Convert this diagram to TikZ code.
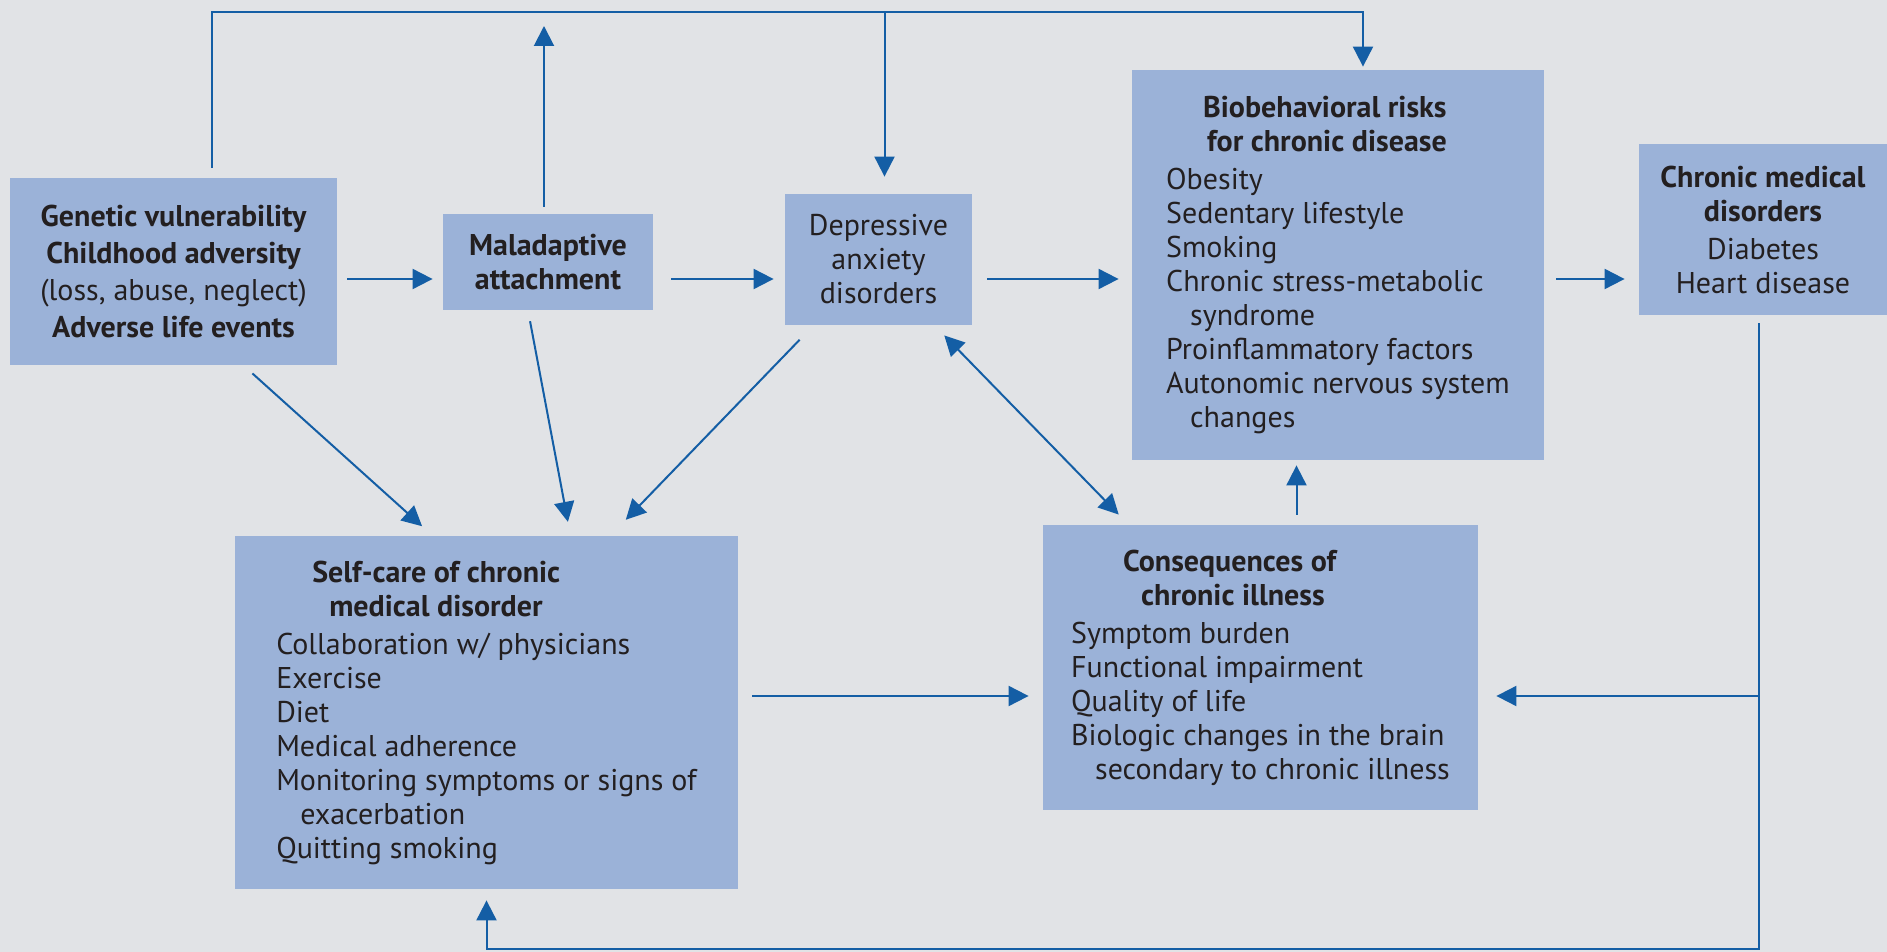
\documentclass[tikz,border=0pt]{standalone}
\usepackage{fontspec}
\setmainfont{PT Sans}
\usepackage{tikz}
\usetikzlibrary{arrows.meta, positioning, calc}
\definecolor{boxblue}{RGB}{155,178,216}
\definecolor{lineblue}{RGB}{20,94,165}
\definecolor{paper}{RGB}{225,227,230}
\definecolor{ink}{RGB}{35,31,32}

\begin{document}
\begin{tikzpicture}[
  x=0.5pt, y=-0.5pt,
  box/.style={rectangle, fill=boxblue, inner sep=0pt, text=ink,
              font=\fontsize{15}{17}\selectfont},
  link/.style={-{Triangle[length=10pt,width=10pt]}, draw=lineblue, line width=1pt},
  wire/.style={draw=lineblue, line width=1pt},
]
\fill[paper] (0,0) rectangle (1887,952);
\useasboundingbox (0,0) rectangle (1887,952);

% Nodes
\node[box, align=center, minimum width=163.5pt, minimum height=93.5pt,
      font=\fontsize{15}{18.5}\selectfont] (gen) at (173.5,271.5)
  {{\bfseries Genetic vulnerability}\\{\bfseries Childhood adversity}\\(loss, abuse, neglect)\\{\bfseries Adverse life events}};
\node[box, align=center, minimum width=105pt, minimum height=48pt] (mal) at (548,262)
  {{\bfseries Maladaptive}\\{\bfseries attachment}};
\node[box, align=center, minimum width=93.5pt, minimum height=65.5pt] (dep) at (878.5,259.5)
  {Depressive\\anxiety\\disorders};
\node[box, align=left, minimum width=206pt, minimum height=195pt] (bio) at (1338,265)
  {\hspace*{18.5pt}{\bfseries Biobehavioral risks}\\
   \hspace*{20.5pt}{\bfseries for chronic disease}\\[2pt]
   Obesity\\Sedentary lifestyle\\Smoking\\Chronic stress-metabolic\\
   \hspace*{12pt}syndrome\\Proinflammatory factors\\Autonomic nervous system\\
   \hspace*{12pt}changes};
\node[box, align=center, minimum width=124pt, minimum height=85.5pt] (chr) at (1763,229.5)
  {{\bfseries Chronic medical}\\{\bfseries disorders}\\[2pt]Diabetes\\Heart disease};
\node[box, align=left, minimum width=251.5pt, minimum height=176.5pt] (self) at (486.5,712.5)
  {\hspace*{18pt}{\bfseries Self-care of chronic}\\
   \hspace*{26.5pt}{\bfseries medical disorder}\\[2pt]
   Collaboration w/ physicians\\Exercise\\Diet\\Medical adherence\\
   Monitoring symptoms or signs of\\\hspace*{12pt}exacerbation\\Quitting smoking};
\node[box, align=left, minimum width=217.5pt, minimum height=142.5pt] (cons) at (1260.5,667.5)
  {\hspace*{26pt}{\bfseries Consequences of}\\
   \hspace*{35pt}{\bfseries chronic illness}\\[2pt]
   Symptom burden\\Functional impairment\\Quality of life\\
   Biologic changes in the brain\\\hspace*{12pt}secondary to chronic illness};

\coordinate (top) at (0,12);
\coordinate (mid) at (0,279);
\coordinate (flow) at (0,696);
\coordinate (low) at (0,949);

% Edges (directed)
\draw[link, shorten <=5pt, shorten >=1.5pt] ([xshift=19pt]gen.north)
  -- ([xshift=19pt]gen.north |- top) -| ([xshift=12.5pt]bio.north);
\draw[link, shorten >=8.5pt] ([xshift=3pt]dep.north |- top) -- ([xshift=3pt]dep.north);
\draw[link, shorten <=3.5pt, shorten >=7pt] ([xshift=-2pt]mal.north) -- ([xshift=-2pt]mal.north |- top);

\draw[link, shorten <=5pt, shorten >=5pt] (gen.east |- mid) -- (mal.west |- mid);
\draw[link, shorten <=9pt, shorten >=5.5pt] (mal.east |- mid) -- (dep.west |- mid);
\draw[link, shorten <=7.5pt, shorten >=6.5pt] (dep.east |- mid) -- (bio.west |- mid);
\draw[link, shorten <=6pt, shorten >=7pt] (bio.east |- mid) -- (chr.west |- mid);

\draw[link, shorten <=6pt, shorten >=7pt] ([xshift=35pt]gen.south) -- ([xshift=-27pt]self.north);
\draw[link, shorten <=5.5pt, shorten >=7pt] ([xshift=-10pt]mal.south) -- ([xshift=42pt]self.north);
\draw[link, shorten <=10pt, shorten >=11pt] ([xshift=-32.5pt]dep.south) -- ([xshift=62pt]self.north);
\draw[link, {Triangle[length=10pt,width=10pt]}-{Triangle[length=10pt,width=10pt]},
      shorten <=7pt, shorten >=7pt] ([xshift=28pt]dep.south) -- ([xshift=-66pt]cons.north);
\draw[link, shorten <=5pt, shorten >=2.5pt] ([xshift=18pt]cons.north) -- ([xshift=18pt]cons.north |- bio.south);
\draw[link, shorten <=7pt, shorten >=7pt] (self.east |- flow) -- (cons.west |- flow);

\draw[link, shorten <=4pt, shorten >=5.5pt] ([xshift=-2pt]chr.south)
  -- ([xshift=-2pt]chr.south |- low) -| (self.south);
\draw[link, shorten >=9pt] ([xshift=-2pt]chr.south |- flow) -- (cons.east |- flow);

\end{tikzpicture}
\end{document}
